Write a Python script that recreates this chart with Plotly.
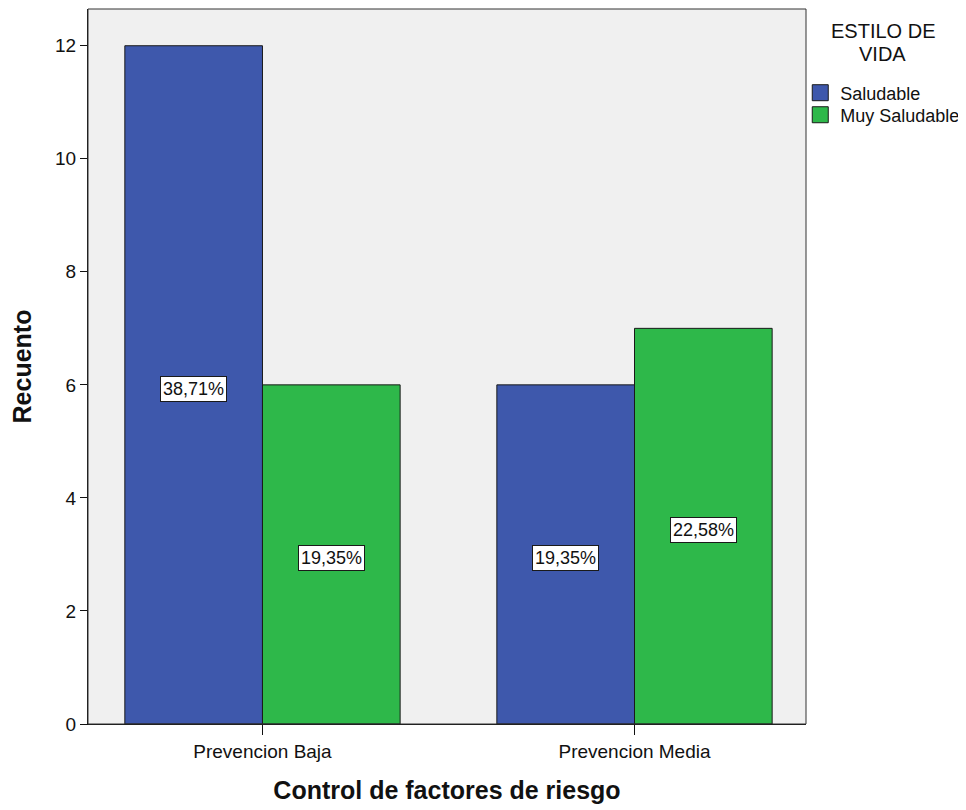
import plotly.graph_objects as go

categories = ["Prevencion Baja", "Prevencion Media"]
series_names = ["Saludable", "Muy Saludable"]
saludable = [12, 6]
muy_saludable = [6, 7]
pct_saludable = ["38,71%", "19,35%"]
pct_muy = ["19,35%", "22,58%"]
y_ticks = [0, 2, 4, 6, 8, 10, 12]
legend_title_lines = ["ESTILO DE", "VIDA"]

colors = ["#3e58ac", "#2eb84a"]
FONT = "Liberation Sans, Arial, sans-serif"

fig = go.Figure()
for name, vals, col in zip(series_names, [saludable, muy_saludable], colors):
    fig.add_trace(go.Bar(
        name=name, x=categories, y=vals, showlegend=False,
        marker=dict(color=col, line=dict(color="#1a1a1a", width=1)),
    ))
# legend entries with square symbols (one per legend box for tight spacing)
for name, col, lg in zip(series_names, colors, ["legend", "legend2"]):
    fig.add_trace(go.Scatter(
        name=name, x=[None], y=[None], mode="markers", legend=lg,
        marker=dict(symbol="square", size=16, color=col,
                    line=dict(color="#1a1a1a", width=1)),
    ))

# labels at bar centers
offsets = [-0.185, 0.185]
for off, vals, pcts in zip(offsets, [saludable, muy_saludable], [pct_saludable, pct_muy]):
    for i, (v, p) in enumerate(zip(vals, pcts)):
        fig.add_annotation(
            x=i + off, y=v / 2, xref="x", yref="y", text=p, showarrow=False,
            yshift=-4,
            bgcolor="white", bordercolor="#1a1a1a", borderwidth=1, borderpad=2,
            font=dict(family=FONT, size=18, color="#111"),
        )

for line, yy in zip(legend_title_lines, [0.9692, 0.9371]):
    fig.add_annotation(
        x=1.107, y=yy, xref="paper", yref="paper", xanchor="center", yanchor="middle",
        text=line, showarrow=False,
        font=dict(family=FONT, size=20, color="#111"),
    )

leg_common = dict(x=0.992, xanchor="left", yanchor="middle",
                  font=dict(size=18), bgcolor="rgba(0,0,0,0)",
                  itemwidth=30, tracegroupgap=0)
fig.update_layout(
    width=958, height=802,
    margin=dict(l=80, r=158, t=1, b=86),
    paper_bgcolor="white", plot_bgcolor="#f0f0f0",
    barmode="group", bargap=0.26, bargroupgap=0,
    font=dict(family=FONT, size=18, color="#111"),
    legend=dict(y=0.8825, **leg_common),
    legend2=dict(y=0.8517, **leg_common),
    showlegend=True,
)
fig.update_xaxes(
    type="category", range=[-0.469, 1.461],
    ticks="outside", ticklen=10, tickcolor="#111", tickwidth=1,
    showline=True, linecolor="#111", linewidth=1, mirror=False,
    showgrid=False,
    title=dict(text="<b>Control de factores de riesgo</b>",
               font=dict(size=25, family=FONT, color="#111"),
               standoff=20),
    tickfont=dict(size=19),
)
fig.update_yaxes(
    range=[0, 12.65], tickvals=y_ticks,
    ticks="outside", ticklen=7, tickcolor="#111", tickwidth=1,
    showline=True, linecolor="#111", linewidth=1,
    showgrid=False, zeroline=False,
    title=dict(text="<b>Recuento</b>",
               font=dict(size=25, family=FONT, color="#111"),
               standoff=20),
    tickfont=dict(size=19),
)
# top/right border
fig.add_shape(type="rect", xref="paper", yref="paper", x0=0, y0=0, x1=1, y1=1,
              line=dict(color="#333", width=1), layer="above")

fig.write_html("out.html")
